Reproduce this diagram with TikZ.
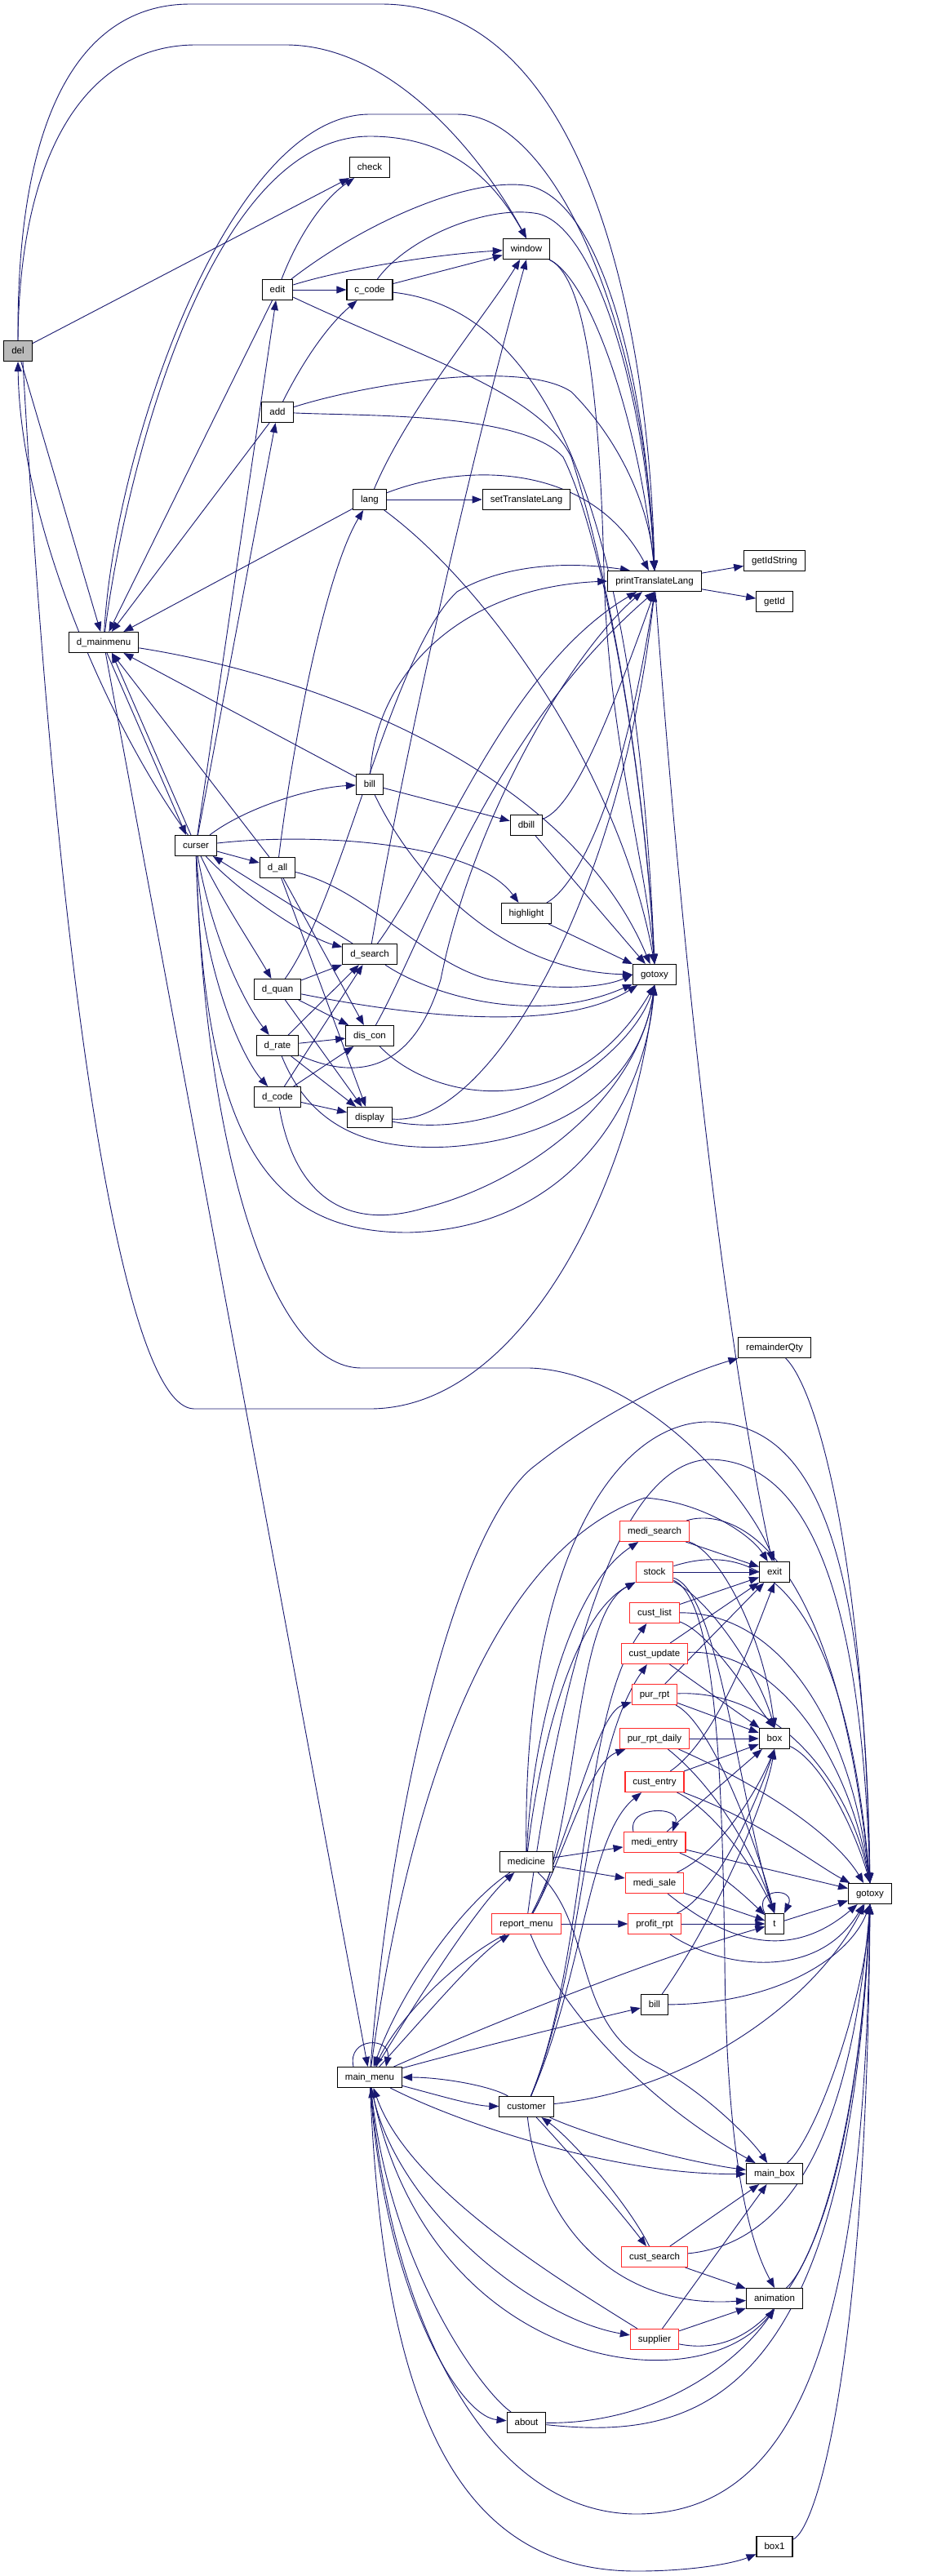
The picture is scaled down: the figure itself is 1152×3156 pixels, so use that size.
\documentclass[tikz,border=0pt]{standalone}
\usepackage{fontspec}
\setmainfont{Liberation Sans}
\usetikzlibrary{arrows.meta}
\definecolor{edgeblue}{HTML}{191970}
\definecolor{nodered}{HTML}{FF2A2A}
\pgfdeclarelayer{bg}
\pgfsetlayers{bg,main}
\begin{document}
\begin{tikzpicture}[x=1pt,y=-1pt,
  fn/.style={draw=black, line width=1.1pt, fill=white, inner xsep=9.5pt, inner ysep=0pt,
    minimum height=25pt, text height=9pt, text depth=2.5pt,
    font=\fontsize{11.5pt}{13pt}\selectfont},
  fnred/.style={fn, draw=nodered},
  fngray/.style={fn, fill=black!27},
  edge/.style={draw=edgeblue, line width=0.9pt, -{Triangle[length=12pt,width=9pt]}}]
\useasboundingbox (0,0) rectangle (1152,3156);
% ---------- nodes, upper part ----------
\node[fngray] (del) at (22,430) {del};
\node[fn] (check) at (453,205) {check};
\node[fn] (edit) at (340,355) {edit};
\node[fn] (ccode) at (453,355) {c\_code};
\node[fn] (window) at (645,305) {window};
\node[fn] (add) at (340,505) {add};
\node[fn] (lang) at (453,612) {lang};
\node[fn] (stl) at (645,612) {setTranslateLang};
\node[fn] (PTL) at (802,712) {printTranslateLang};
\node[fn] (getIdString) at (949,687) {getIdString};
\node[fn] (getId) at (949,737) {getId};
\node[fn] (dmm) at (127,787) {d\_mainmenu};
\node[fn] (billA) at (453,961) {bill};
\node[fn] (dbill) at (645,1011) {dbill};
\node[fn] (curser) at (240,1036) {curser};
\node[fn] (dall) at (340,1063) {d\_all};
\node[fn] (highlight) at (645,1119) {highlight};
\node[fn] (dsearch) at (453,1169) {d\_search};
\node[fn] (gA) at (802,1194) {gotoxy};
\node[fn] (dquan) at (340,1212) {d\_quan};
\node[fn] (discon) at (453,1269) {dis\_con};
\node[fn] (drate) at (340,1281) {d\_rate};
\node[fn] (dcode) at (340,1344) {d\_code};
\node[fn] (display) at (453,1369) {display};
% ---------- nodes, lower part ----------
\node[fn] (remq) at (949,1651) {remainderQty};
\node[fnred] (msearch) at (802,1876) {medi\_search};
\node[fnred] (stock) at (802,1926) {stock};
\node[fn] (exit) at (949,1926) {exit};
\node[fnred] (clist) at (802,1976) {cust\_list};
\node[fnred] (cupdate) at (802,2026) {cust\_update};
\node[fnred] (purrpt) at (802,2076) {pur\_rpt};
\node[fnred] (purdaily) at (802,2130) {pur\_rpt\_daily};
\node[fn] (box) at (949,2130) {box};
\node[fnred] (centry) at (802,2183) {cust\_entry};
\node[fnred] (mentry) at (802,2257) {medi\_entry};
\node[fn] (medicine) at (645,2281) {medicine};
\node[fnred] (msale) at (802,2307) {medi\_sale};
\node[fn] (gB) at (1066,2320) {gotoxy};
\node[fnred] (rmenu) at (645,2357) {report\_menu};
\node[fnred] (profit) at (802,2357) {profit\_rpt};
\node[fn] (t) at (949,2357) {t};
\node[fn] (billB) at (802,2456) {bill};
\node[fn] (mainmenu) at (453,2545) {main\_menu};
\node[fn] (customer) at (645,2581) {customer};
\node[fn] (mainbox) at (949,2663) {main\_box};
\node[fnred] (csearch) at (802,2765) {cust\_search};
\node[fn] (animation) at (949,2816) {animation};
\node[fnred] (supplier) at (802,2866) {supplier};
\node[fn] (about) at (645,2968) {about};
\node[fn] (boxone) at (949,3120) {box1};

\begin{pgfonlayer}{bg}
\fill[white] (0,0) rectangle (1152,3156);
% ---------- del ----------
\draw[edge] (del) -- (check);
\draw[edge] (del.north) .. controls (24,180) and (110,55) .. (240,55) -- (350,55) .. controls (480,55) and (590,190) .. (window.north);
\draw[edge] (del.north) .. controls (20,120) and (110,5) .. (233,5) -- (467,5) .. controls (720,5) and (795,400) .. (PTL.north);
\draw[edge] (del) -- (dmm);
\draw[edge] ([xshift=6pt]del.south) .. controls (70,1200) and (150,1726) .. (238,1726) -- (453,1726) .. controls (640,1726) and (775,1450) .. (gA.south);
\draw[edge] (curser) .. controls (140,900) and (25,650) .. (del.south);
% ---------- edit / add / c_code ----------
\draw[edge] (edit) .. controls (365,290) and (395,245) .. (check);
\draw[edge] (edit) -- (ccode);
\draw[edge] (edit) .. controls (420,330) and (530,312) .. (window);
\draw[edge] (edit) .. controls (450,270) and (580,215) .. (650,228) .. controls (735,250) and (790,450) .. (PTL.north);
\draw[edge] (edit) .. controls (520,440) and (660,480) .. (700,560) .. controls (745,700) and (790,950) .. (gA.north);
\draw[edge] (edit) -- (dmm);
\draw[edge] (add) .. controls (370,445) and (400,400) .. (ccode);
\draw[edge] (add) .. controls (450,470) and (640,440) .. (700,480) .. controls (760,540) and (795,620) .. (PTL.north);
\draw[edge] (add) .. controls (450,510) and (640,505) .. (690,560) .. controls (740,660) and (790,950) .. (gA.north);
\draw[edge] (add) -- (dmm);
\draw[edge] (ccode) -- (window);
\draw[edge] (ccode) .. controls (500,290) and (600,250) .. (660,262) .. controls (730,280) and (790,480) .. (PTL.north);
\draw[edge] (ccode) .. controls (680,380) and (780,650) .. (gA.north);
% ---------- lang ----------
\draw[edge] (lang) -- (stl);
\draw[edge] (lang) .. controls (560,570) and (720,560) .. (PTL);
\draw[edge] (lang) .. controls (500,500) and (600,380) .. (window);
\draw[edge] (lang) .. controls (600,720) and (760,950) .. (gA.north);
\draw[edge] (lang) -- (dmm);
% ---------- d_mainmenu ----------
\draw[edge] (dmm) .. controls (150,600) and (250,167) .. (453,167) .. controls (560,167) and (610,230) .. (window.north);
\draw[edge] (dmm) .. controls (140,550) and (280,140) .. (453,140) -- (560,140) .. controls (680,140) and (790,400) .. (PTL.north);
\draw[edge] (dmm) .. controls (400,830) and (700,950) .. (gA);
\draw[edge] ([xshift=4pt]dmm.south) -- ([xshift=-12pt]curser.north);
\draw[edge] ([xshift=-6pt]curser.north) -- ([xshift=10pt]dmm.south);
\draw[edge] (dmm) -- (mainmenu);
% ---------- curser ----------
\draw[edge] (curser) -- (edit);
\draw[edge] (curser) -- (add);
\draw[edge] (curser) .. controls (300,990) and (380,965) .. (billA);
\draw[edge] (curser) .. controls (380,1020) and (580,1030) .. (highlight);
\draw[edge] (curser) -- (dall);
\draw[edge] (curser) .. controls (300,1100) and (380,1150) .. (dsearch);
\draw[edge] (dsearch) -- (curser);
\draw[edge] (curser) .. controls (270,1100) and (310,1160) .. (dquan);
\draw[edge] (curser) .. controls (260,1150) and (300,1230) .. (drate);
\draw[edge] (curser) .. controls (250,1200) and (300,1300) .. (dcode);
\draw[edge] (curser) .. controls (250,1400) and (330,1676) .. (443,1676) -- (649,1676) .. controls (780,1680) and (910,1820) .. (exit.north);
\draw[edge] (curser) .. controls (250,1400) and (330,1510) .. (500,1510) .. controls (700,1505) and (790,1350) .. (gA.south);
% ---------- bill / dbill / highlight ----------
\draw[edge] (billA) -- (dmm);
\draw[edge] (billA) -- (dbill);
\draw[edge] (billA) .. controls (460,830) and (560,720) .. (PTL.west);
\draw[edge] (billA) .. controls (510,1080) and (620,1190) .. (gA.west);
\draw[edge] (dbill) .. controls (700,990) and (740,900) .. (PTL.south);
\draw[edge] (dbill) -- (gA);
\draw[edge] (highlight) .. controls (700,1090) and (760,1000) .. (PTL.south);
\draw[edge] (highlight) -- (gA);
% ---------- d_all ----------
\draw[edge] (dall) -- (dmm);
\draw[edge] (dall) .. controls (360,900) and (400,700) .. (lang);
\draw[edge] (dall) -- (discon);
\draw[edge] (dall) -- (display);
\draw[edge] (dall) .. controls (450,1090) and (520,1180) .. (600,1200) .. controls (680,1215) and (740,1210) .. (gA.west);
% ---------- d_search ----------
\draw[edge] (dsearch) .. controls (500,900) and (580,550) .. (window.south);
\draw[edge] (dsearch) .. controls (540,1050) and (620,820) .. (PTL);
\draw[edge] (dsearch) .. controls (520,1215) and (650,1260) .. (gA);
% ---------- d_quan ----------
\draw[edge] (dquan) -- (dsearch);
\draw[edge] (dquan) -- (discon);
\draw[edge] (dquan) -- (display);
\draw[edge] (dquan) .. controls (480,1240) and (680,1270) .. (gA);
\draw[edge] (dquan) .. controls (420,1100) and (480,800) .. (560,725) .. controls (620,690) and (700,688) .. ([xshift=-30pt]PTL.north);
% ---------- d_rate ----------
\draw[edge] (drate) -- (dsearch);
\draw[edge] (drate) -- (discon);
\draw[edge] (drate) -- (display);
\draw[edge] (drate) .. controls (380,1380) and (450,1410) .. (550,1405) .. controls (700,1395) and (785,1320) .. (gA.south);
\draw[edge] (drate) .. controls (450,1330) and (510,1300) .. (540,1200) .. controls (580,1000) and (700,800) .. (PTL);
% ---------- d_code ----------
\draw[edge] (dcode) -- (dsearch);
\draw[edge] (dcode) -- (discon);
\draw[edge] (dcode) -- (display);
\draw[edge] (dcode) .. controls (360,1460) and (420,1510) .. (520,1480) .. controls (640,1450) and (780,1350) .. (gA.south);
% ---------- dis_con / display / window / PTL ----------
\draw[edge] (discon) .. controls (520,1150) and (600,900) .. (PTL.south);
\draw[edge] (discon) .. controls (530,1350) and (700,1380) .. (gA.south);
\draw[edge] (display) .. controls (600,1380) and (760,1100) .. (PTL.south);
\draw[edge] (display) .. controls (620,1400) and (770,1300) .. (gA.south);
\draw[edge] (window) .. controls (720,340) and (780,500) .. (PTL.north);
\draw[edge] (window) .. controls (720,340) and (735,500) .. (740,700) .. controls (745,900) and (790,1050) .. (gA.north);
\draw[edge] (PTL) -- (getIdString);
\draw[edge] (PTL) -- (getId);
\draw[edge] (PTL) .. controls (830,1100) and (880,1600) .. (exit);
% ---------- main_menu ----------
\draw[edge] ([xshift=-20pt]mainmenu.north) .. controls (425,2495) and (480,2495) .. ([xshift=20pt]mainmenu.north);
\draw[edge] (mainmenu) .. controls (530,2420) and (590,2330) .. (medicine);
\draw[edge] (medicine) .. controls (570,2330) and (495,2430) .. (mainmenu);
\draw[edge] (mainmenu) .. controls (530,2460) and (585,2395) .. (rmenu);
\draw[edge] (rmenu) .. controls (560,2400) and (490,2470) .. (mainmenu);
\draw[edge] (mainmenu) .. controls (530,2565) and (580,2580) .. (customer);
\draw[edge] (customer) .. controls (600,2555) and (540,2545) .. (mainmenu);
\draw[edge] (mainmenu) .. controls (480,2700) and (650,2840) .. (supplier);
\draw[edge] (supplier) .. controls (680,2790) and (500,2680) .. (mainmenu);
\draw[edge] (mainmenu) .. controls (470,2800) and (560,2960) .. (about);
\draw[edge] (about) .. controls (590,2930) and (480,2780) .. (mainmenu);
\draw[edge] (mainmenu) .. controls (560,2515) and (700,2480) .. (billB);
\draw[edge] (mainmenu) .. controls (600,2480) and (800,2400) .. (t);
\draw[edge] (mainmenu) .. controls (560,2600) and (750,2665) .. (mainbox);
\draw[edge] (mainmenu) .. controls (520,2900) and (850,2950) .. (animation.south);
\draw[edge] (mainmenu) .. controls (470,2950) and (560,3150) .. (780,3150) .. controls (850,3150) and (900,3140) .. (boxone);
\draw[edge] (mainmenu) .. controls (480,2850) and (600,3080) .. (780,3080) .. controls (1000,3080) and (1060,2800) .. (gB.south);
\draw[edge] (mainmenu) .. controls (480,2200) and (560,1880) .. (650,1800) .. controls (750,1720) and (850,1680) .. (remq);
\draw[edge] (mainmenu) .. controls (500,2200) and (600,1900) .. (790,1835) .. controls (860,1840) and (920,1880) .. (exit);
% ---------- medicine / report_menu / customer ----------
\draw[edge] (medicine) .. controls (650,2150) and (690,1950) .. (msearch);
\draw[edge] (medicine) .. controls (660,2150) and (700,1980) .. (stock);
\draw[edge] (medicine) -- (mentry);
\draw[edge] (medicine) -- (msale);
\draw[edge] (medicine) .. controls (730,2360) and (700,2480) .. (800,2530) .. controls (860,2560) and (920,2620) .. (mainbox);
\draw[edge] (medicine) .. controls (640,1900) and (760,1740) .. (870,1742) .. controls (1000,1745) and (1060,1900) .. (gB.north);
\draw[edge] (rmenu) .. controls (710,2250) and (700,1980) .. (stock);
\draw[edge] (rmenu) .. controls (700,2250) and (730,2100) .. (purrpt);
\draw[edge] (rmenu) .. controls (690,2280) and (720,2160) .. (purdaily);
\draw[edge] (rmenu) -- (profit);
\draw[edge] (rmenu) .. controls (690,2470) and (800,2580) .. (mainbox);
\draw[edge] (rmenu) .. controls (700,1950) and (780,1790) .. (870,1788) .. controls (990,1790) and (1055,1950) .. (gB.north);
\draw[edge] (customer) .. controls (720,2400) and (710,2100) .. (clist);
\draw[edge] (customer) .. controls (720,2400) and (715,2150) .. (cupdate);
\draw[edge] (customer) .. controls (715,2420) and (720,2250) .. (centry);
\draw[edge] (customer) .. controls (700,2640) and (760,2710) .. (csearch);
\draw[edge] (csearch) .. controls (770,2700) and (700,2620) .. (customer);
\draw[edge] (customer) .. controls (730,2620) and (850,2650) .. (mainbox);
\draw[edge] (customer) .. controls (660,2720) and (750,2830) .. (animation);
\draw[edge] (customer) .. controls (850,2560) and (1000,2450) .. (gB);
% ---------- rank of red nodes ----------
\draw[edge] (msearch) -- (exit);
\draw[edge] (msearch) .. controls (880,1900) and (935,2000) .. (box.north);
\draw[edge] (msearch) .. controls (880,1850) and (1020,1860) .. (gB.north);
\draw[edge] (stock) -- (exit);
\draw[edge] (stock) .. controls (870,1960) and (930,2050) .. (box.north);
\draw[edge] (stock) .. controls (880,1950) and (905,2200) .. (t.north);
\draw[edge] (stock) .. controls (900,1895) and (1030,1900) .. (gB.north);
\draw[edge] (stock) .. controls (880,1960) and (885,2200) .. (888,2400) .. controls (890,2650) and (920,2750) .. (animation.north);
\draw[edge] (clist) -- (exit);
\draw[edge] (clist) .. controls (870,2000) and (920,2080) .. (box.north);
\draw[edge] (clist) .. controls (950,1975) and (1040,2100) .. (gB.north);
\draw[edge] (cupdate) -- (exit);
\draw[edge] (cupdate) -- (box);
\draw[edge] (cupdate) .. controls (950,2020) and (1040,2150) .. (gB.north);
\draw[edge] (purrpt) -- (exit);
\draw[edge] (purrpt) -- (box);
\draw[edge] (purrpt) .. controls (870,2110) and (925,2250) .. (t.north);
\draw[edge] (purrpt) .. controls (950,2070) and (1040,2180) .. (gB.north);
\draw[edge] (purdaily) -- (box);
\draw[edge] (purdaily) .. controls (890,2200) and (935,2300) .. (t.north);
\draw[edge] (purdaily) .. controls (960,2200) and (1030,2260) .. (gB);
\draw[edge] (centry) .. controls (880,2130) and (925,2000) .. (exit.south);
\draw[edge] (centry) -- (box);
\draw[edge] (centry) .. controls (880,2220) and (930,2300) .. (t.north);
\draw[edge] (centry) .. controls (930,2230) and (1000,2285) .. (gB);
\draw[edge] ([xshift=-26pt]mentry.north) .. controls (768,2212) and (835,2212) .. ([xshift=22pt]mentry.north);
\draw[edge] (mentry) -- (box);
\draw[edge] (mentry) .. controls (880,2290) and (920,2330) .. (t);
\draw[edge] (mentry) -- (gB);
\draw[edge] (msale) .. controls (880,2270) and (925,2200) .. (box.south);
\draw[edge] (msale) -- (t);
\draw[edge] (msale) .. controls (880,2370) and (960,2410) .. (gB);
\draw[edge] (profit) .. controls (880,2320) and (930,2200) .. (box.south);
\draw[edge] (profit) -- (t);
\draw[edge] (profit) .. controls (880,2410) and (1000,2430) .. (gB);
\draw[edge] (billB) .. controls (870,2360) and (935,2220) .. (box.south);
\draw[edge] (billB) .. controls (950,2455) and (1040,2400) .. (gB.south);
\draw[edge] (csearch) -- (mainbox);
\draw[edge] (csearch) -- (animation);
\draw[edge] (csearch) .. controls (950,2750) and (1040,2650) .. (gB.south);
\draw[edge] (supplier) -- (mainbox);
\draw[edge] (supplier) -- (animation);
\draw[edge] (supplier) .. controls (900,2885) and (1040,2860) .. (gB.south);
\draw[edge] (about) .. controls (800,2970) and (900,2900) .. (animation.south);
\draw[edge] (about) .. controls (850,2990) and (1040,2950) .. (gB.south);
% ---------- right column ----------
\draw[edge] ([xshift=-12pt]t.north) .. controls (922,2312) and (976,2312) .. ([xshift=12pt]t.north);
\draw[edge] (t) -- (gB);
\draw[edge] (box) .. controls (1010,2160) and (1050,2250) .. (gB.north);
\draw[edge] (mainbox) .. controls (1000,2620) and (1060,2450) .. (gB.south);
\draw[edge] (animation) .. controls (1000,2770) and (1055,2600) .. (gB.south);
\draw[edge] (boxone) .. controls (1000,3100) and (1062,2900) .. (gB.south);
\draw[edge] (remq) .. controls (1000,1700) and (1058,1900) .. (gB.north);
\end{pgfonlayer}
\end{tikzpicture}
\end{document}
